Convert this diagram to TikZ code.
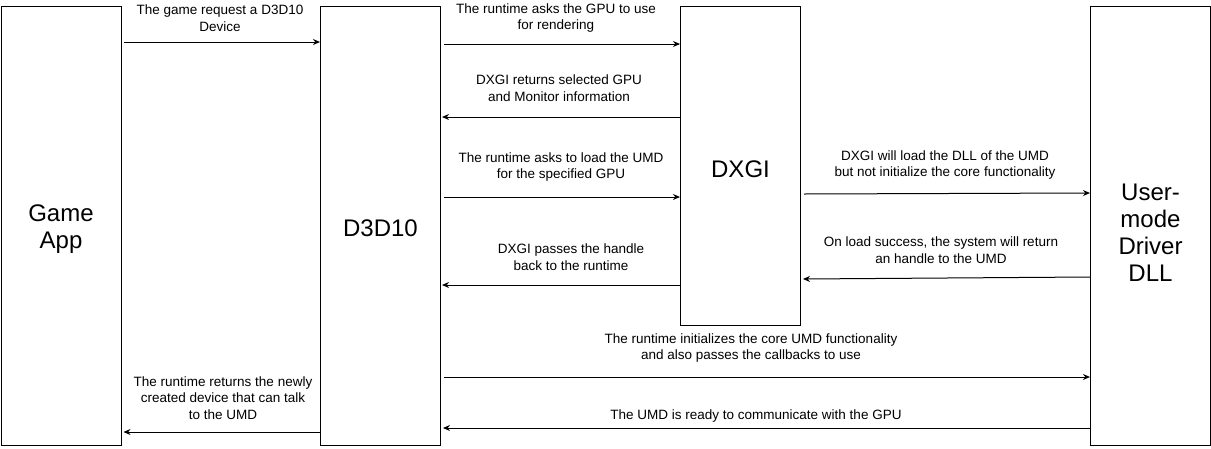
\documentclass[tikz,border=0pt]{standalone}
\usepackage{fontspec}
\setmainfont{Liberation Sans}
\usetikzlibrary{arrows.meta}
\begin{document}
\begin{tikzpicture}[x=1pt,y=-1pt,
  box/.style={draw=black,line width=1pt,fill=white,inner sep=0pt,anchor=north west},
  boxtxt/.style={font=\fontsize{24}{27}\selectfont,align=center,inner sep=0pt},
  arr/.style={draw=black,line width=1pt,-{Stealth[length=7pt,width=6pt]}},
  lbl/.style={font=\fontsize{13.5}{16.5}\selectfont,align=center,inner sep=0pt}]
\useasboundingbox (0,0) rectangle (1211,448);
\node[box,minimum width=120pt,minimum height=439pt] (game) at (0.5,6) {};
\node[box,minimum width=120pt,minimum height=439pt] (d3d) at (320,6) {};
\node[box,minimum width=120pt,minimum height=319pt] (dxgi) at (680,6) {};
\node[box,minimum width=120pt,minimum height=439pt] (umd) at (1090,6) {};
\node[boxtxt] (tgame) at ([yshift=-3pt]game.center) {Game\\App};
\node[boxtxt] (td3d) at ([yshift=-2pt]d3d.center) {D3D10};
\node[boxtxt] (tdxgi) at ([yshift=-3pt]dxgi.center) {DXGI};
\node[boxtxt] (tumd) at ([yshift=-7pt]umd.center) {User-\\mode\\Driver\\DLL};
% connectors
\draw[arr] (game.east |- 0,42) ++(2,0) -- (d3d.west |- 0,42);
\draw[arr] (d3d.east |- 0,44) ++(3,0) -- (dxgi.west |- 0,44);
\draw[arr] (dxgi.west |- 0,117) -- ([xshift=1pt]d3d.east |- 0,117);
\draw[arr] (d3d.east |- 0,197) ++(3,0) -- (dxgi.west |- 0,197);
\draw[arr] (dxgi.west |- 0,285) -- ([xshift=1pt]d3d.east |- 0,285);
\draw[arr] (dxgi.east |- 0,194) ++(3,0) -- (umd.west |- 0,193);
\draw[arr] (umd.west |- 0,277) -- ([xshift=2pt]dxgi.east |- 0,279);
\draw[arr] (d3d.east |- 0,377) ++(3,0) -- (umd.west |- 0,377);
\draw[arr] (umd.west |- 0,428) -- ([xshift=2pt]d3d.east |- 0,428);
\draw[arr] (d3d.west |- 0,432) -- ([xshift=2pt]game.east |- 0,432);
% labels
\node[lbl] (l1) at (220,18) {The game request a D3D10\\Device};
\node[lbl] (l2) at (556,18) {The runtime asks the GPU to use\\for rendering};
\node[lbl] (l3) at (559,88) {DXGI returns selected GPU\\and Monitor information};
\node[lbl] (l4) at (561,167) {The runtime asks to load the UMD\\for the specified GPU};
\node[lbl] (l5) at (571,257) {DXGI passes the handle\\back to the runtime};
\node[lbl] (l6) at (945,165) {DXGI will load the DLL of the UMD\\but not initialize the core functionality};
\node[lbl] (l7) at (941,250) {On load success, the system will return\\an handle to the UMD};
\node[lbl] (l8) at (751,348) {The runtime initializes the core UMD functionality\\and also passes the callbacks to use};
\node[lbl] (l9) at (756,416) {The UMD is ready to communicate with the GPU};
\node[lbl] (l10) at (223,398) {The runtime returns the newly\\created device that can talk\\to the UMD};
\end{tikzpicture}
\end{document}
